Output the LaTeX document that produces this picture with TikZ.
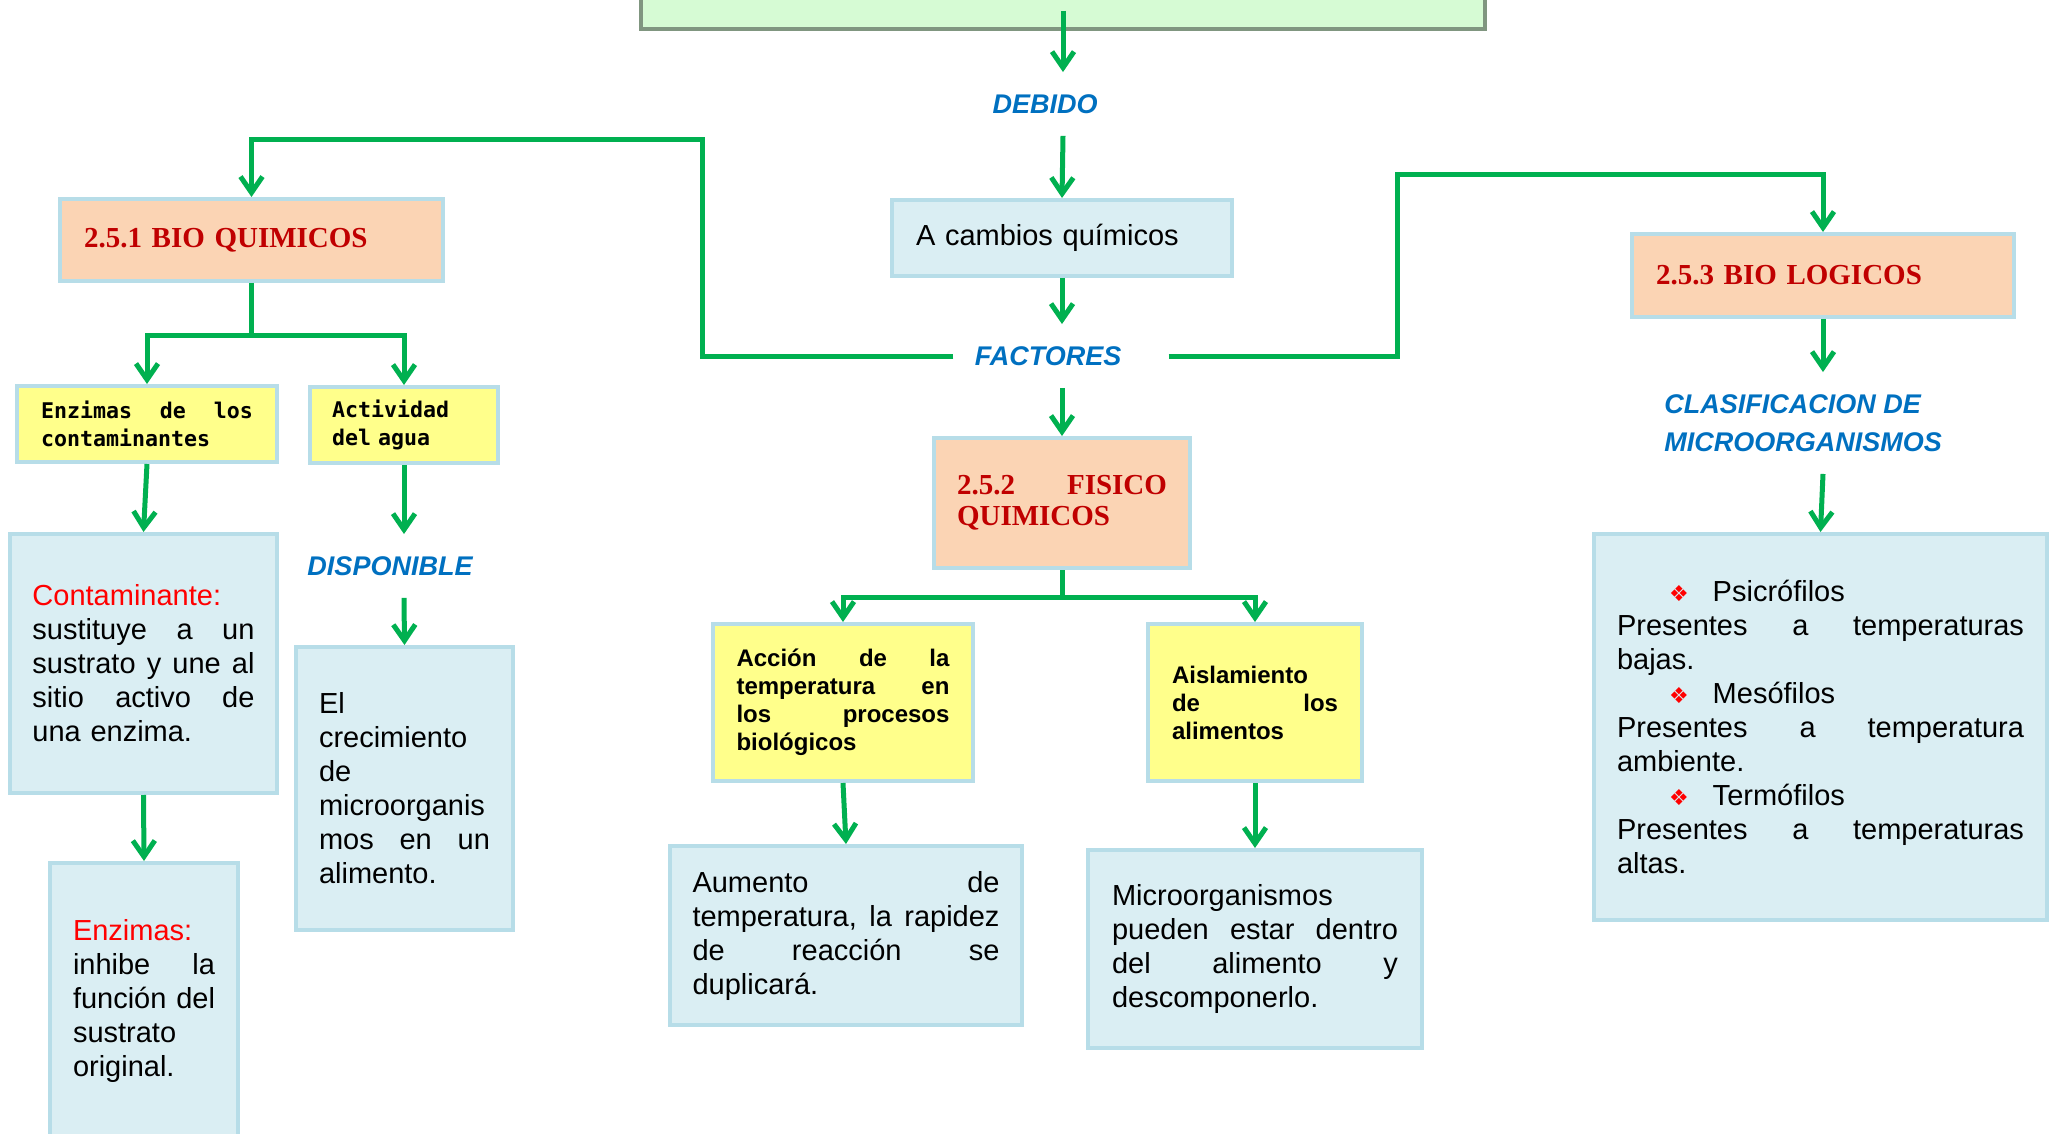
\documentclass[tikz,border=0pt]{standalone}
\usepackage{fontspec}
\setmainfont{Liberation Sans}
\newfontfamily\hdrfont{Liberation Serif}
\newfontfamily\monofnt{DejaVu Sans Mono}
\newfontfamily\symfnt{DejaVu Sans}
\usetikzlibrary{arrows.meta}

\definecolor{boxline}{RGB}{183,221,232}
\definecolor{boxfill}{RGB}{218,238,243}
\definecolor{peach}{RGB}{251,212,180}
\definecolor{yellowfill}{RGB}{255,255,139}
\definecolor{arrowgreen}{RGB}{0,176,80}
\definecolor{hdrred}{RGB}{192,0,0}
\definecolor{labelblue}{RGB}{0,112,192}
\definecolor{topgreen}{RGB}{214,251,212}
\definecolor{topedge}{RGB}{128,150,128}

\newcommand{\vineta}{{\symfnt\fontsize{11}{11}\selectfont\color{red}\char"2756}}

\begin{document}
\begin{tikzpicture}
[x=0.5pt, y=-0.5pt, every node/.style={inner sep=0pt},
 caja/.style={rectangle, draw=boxline, line width=2pt, fill=boxfill, align=left, font=\fontsize{14.5}{17}\selectfont},
 titulo/.style={caja, fill=peach, text=hdrred, font=\hdrfont\bfseries\fontsize{14.5}{15.5}\selectfont},
 amarilla/.style={caja, fill=yellowfill, font=\bfseries\fontsize{12}{14}\selectfont},
 amarillamono/.style={caja, fill=yellowfill, font=\monofnt\bfseries\fontsize{10.8}{13.7}\selectfont},
 etiqueta/.style={text=labelblue, inner xsep=10.5pt, inner ysep=11pt, align=left, font=\bfseries\itshape\fontsize{13.5}{19}\selectfont},
 linea/.style={draw=arrowgreen, line width=2.5pt},
 flecha/.style={linea, -{Straight Barb[length=8pt,width=11pt]}}]
\useasboundingbox (0,0) rectangle (2051,1134);
\clip (0,0) rectangle (2051,1134);

% center column
\node (cabecera) [rectangle, fill=topgreen, draw=topedge, line width=2pt, minimum width=422pt, minimum height=39pt] at (1063,-10) {};
\node (debido) [etiqueta] at (1045,104) {DEBIDO};
\node (cambios) [caja, minimum width=170pt, minimum height=38pt, text width=146pt] at (1062,238) {A cambios químicos};
\node (factores) [etiqueta] at (1048,356) {FACTORES};
\node (fisico) [titulo, minimum width=128pt, minimum height=65pt, text width=105pt] at (1062,503) {2.5.2\hfill FISICO\\QUIMICOS};
\node (accion) [amarilla, minimum width=130pt, minimum height=78.5pt, text width=106.5pt] at (843,702.5) {Acción\hfill de\hfill la\\temperatura\hfill en\\los\hfill procesos\\biológicos};
\node (aislamiento) [amarilla, minimum width=107pt, minimum height=78.5pt, text width=83pt] at (1255,702.5) {Aislamiento\\de\hfill los\\alimentos};
\node (aumento) [caja, minimum width=176pt, minimum height=89.5pt, text width=153.5pt] at (846,935.5) {Aumento\hfill de\\temperatura,\hfill la\hfill rapidez\\de\hfill reacción\hfill se\\duplicará.};
\node (micro) [caja, minimum width=167pt, minimum height=99pt, text width=143pt] at (1255,949) {Microorganismos\\pueden\hfill estar\hfill dentro\\del\hfill alimento\hfill y\\descomponerlo.};

% left branch
\node (bioquimicos) [titulo, minimum width=191.5pt, minimum height=41pt, text width=167.5pt] at (251.5,240) {2.5.1 BIO QUIMICOS};
\node (enzimas) [amarillamono, minimum width=130pt, minimum height=38pt, text width=106pt] at (147,424) {Enzimas\hfill de\hfill los\\contaminantes};
\node (actividad) [amarillamono, minimum width=94pt, minimum height=38pt, text width=72pt] at (404,425) {Actividad\\del agua};
\node (contaminante) [caja, minimum width=133.5pt, minimum height=129.5pt, text width=111pt] at (143.5,663.5) {{\color{red}Contaminante:}\\sustituye\hfill a\hfill un\\sustrato\hfill y\hfill une\hfill al\\sitio\hfill activo\hfill de\\una enzima.};
\node (inhibe) [caja, minimum width=94pt, minimum height=138pt, text width=71pt] at (144,1001) {{\color{red}Enzimas:}\\inhibe\hfill la\\función\hfill del\\sustrato\\original.};
\node (disponible) [etiqueta] at (390,566) {DISPONIBLE};
\node (crecimiento) [caja, minimum width=108.5pt, minimum height=141.5pt, text width=85.5pt] at (404.5,788.5) {El\\crecimiento\\de\\microorganis\\mos\hfill en\hfill un\\alimento.};

% right branch
\node (biologicos) [titulo, minimum width=191pt, minimum height=41.5pt, text width=167pt] at (1823,275.5) {2.5.3 BIO LOGICOS};
\node (clasif) [etiqueta, anchor=west, inner xsep=0pt] at (1664,423) {CLASIFICACION DE\\MICROORGANISMOS};
\node (tipos) [caja, minimum width=226.5pt, minimum height=193pt, text width=203.5pt] at (1820.5,727) {\hspace*{26pt}\vineta\hspace{12pt}Psicrófilos\\Presentes\hfill a\hfill temperaturas\\bajas.\\\hspace*{26pt}\vineta\hspace{12pt}Mesófilos\\Presentes\hfill a\hfill temperatura\\ambiente.\\\hspace*{26pt}\vineta\hspace{12pt}Termófilos\\Presentes\hfill a\hfill temperaturas\\altas.};

\draw [flecha] ([yshift=10pt]cabecera.south) to (cabecera.south |- debido.north);
\draw [flecha] (cabecera.south |- debido.south) to (cambios.north);
\draw [flecha] (cambios.south) to (cambios.south |- factores.north);
\draw [flecha] (cambios.south |- factores.south) to (fisico.north);
\draw [flecha] (factores.west) -| (702,140) -| (bioquimicos.north);
\draw [flecha] ([xshift=13pt]factores.east) -| (1397,175) -| (biologicos.north);
\draw [flecha] (bioquimicos.south) -- ++(0,53) -| (enzimas.north);
\draw [flecha] (bioquimicos.south) -- ++(0,53) -| (actividad.north);
\draw [flecha] (enzimas.south) to (contaminante.north);
\draw [flecha] (contaminante.south) to (inhibe.north);
\draw [flecha] (actividad.south) to (actividad.south |- disponible.north);
\draw [flecha] (actividad.south |- disponible.south) to (crecimiento.north);
\draw [flecha] (fisico.south) -- ++(0,27) -| (accion.north);
\draw [flecha] (fisico.south) -- ++(0,27) -| (aislamiento.north);
\draw [flecha] (accion.south) to (aumento.north);
\draw [flecha] (aislamiento.south) to (micro.north);
\draw [flecha] (biologicos.south) to (biologicos.south |- clasif.north);
\draw [flecha] (biologicos.south |- clasif.south) to (tipos.north);
\end{tikzpicture}
\end{document}
